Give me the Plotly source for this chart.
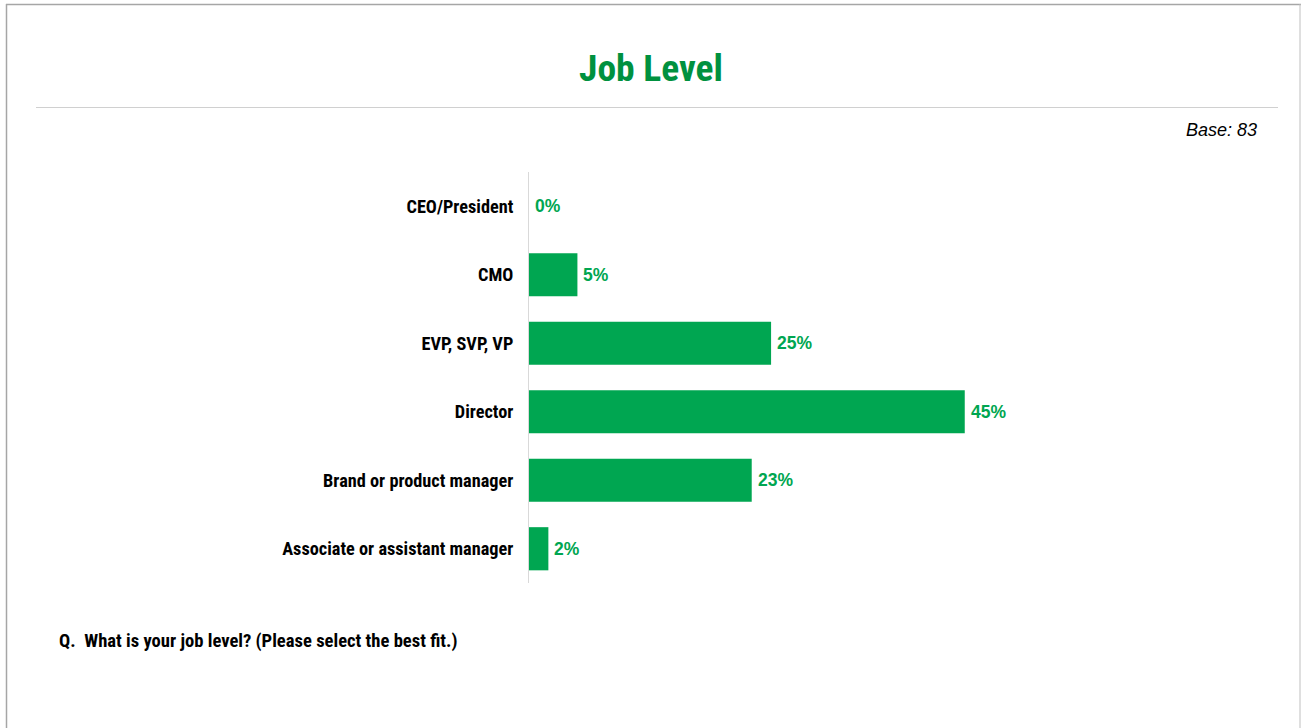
import plotly.graph_objects as go

# Survey results: job level of respondents (percent of base)
categories = ["CEO/President", "CMO", "EVP, SVP, VP", "Director",
              "Brand or product manager", "Associate or assistant manager"]
values = [0, 5, 25, 45, 23, 2]
value_labels = ["0%", "5%", "25%", "45%", "23%", "2%"]

title_text = "Job Level"
base_text = "Base: 83"
question_text = "Q.  What is your job level? (Please select the best fit.)"

W, H = 1301, 728
ML, MR, MT, MB = 529, 191, 172, 145
PW, PH = W - ML - MR, H - MT - MB

NARROW = "Roboto Condensed, Liberation Sans Narrow, Arial Narrow, sans-serif"
SANS = "Liberation Sans, Arial, sans-serif"
GREEN_BAR = "#00A651"
GREEN_TITLE = "#00913F"


def px(x):
    return (x - ML) / PW


def py(y):
    return (H - MB - y) / PH


fig = go.Figure(go.Bar(
    x=values,
    y=categories,
    orientation="h",
    marker=dict(color=GREEN_BAR, line=dict(width=0)),
    width=0.63,
    hoverinfo="skip",
))

# value labels just past the end of each bar
annotations = [
    dict(x=v, y=c, xref="x", yref="y", text=t, showarrow=False,
         xanchor="left", yanchor="middle", xshift=4,
         font=dict(family=SANS, size=17.5, color=GREEN_BAR, weight="bold"))
    for c, v, t in zip(categories, values, value_labels)
]

annotations += [
    dict(text=title_text, xref="paper", yref="paper", x=px(651), y=py(68),
         xanchor="center", yanchor="middle", showarrow=False,
         font=dict(family=NARROW, size=37.5, color=GREEN_TITLE, weight="bold")),
    dict(text=base_text, xref="paper", yref="paper", x=px(1259), y=py(130),
         xanchor="right", yanchor="middle", showarrow=False,
         font=dict(family=SANS, size=18, color="#000000", style="italic")),
    dict(text=question_text, xref="paper", yref="paper", x=px(57), y=py(641),
         xanchor="left", yanchor="middle", showarrow=False,
         font=dict(family=NARROW, size=18.6, color="#000000", weight="bold")),
]

fig.update_layout(
    width=W, height=H,
    margin=dict(l=ML, r=MR, t=MT, b=MB),
    paper_bgcolor="white", plot_bgcolor="white",
    showlegend=False,
    xaxis=dict(range=[0, 60], visible=False, fixedrange=True),
    yaxis=dict(
        autorange="reversed",
        showline=True, linecolor="#D9D9D9", linewidth=1,
        showgrid=False, zeroline=False,
        ticks="", ticklabelstandoff=11,
        tickfont=dict(family=NARROW, size=18.3, color="#000000", weight="bold"),
        fixedrange=True,
    ),
    shapes=[
        # slide frame
        dict(type="line", xref="paper", yref="paper", x0=px(6), x1=px(1301), y0=py(4.5), y1=py(4.5),
             line=dict(color="#A6A6A6", width=1.5)),
        dict(type="line", xref="paper", yref="paper", x0=px(6.5), x1=px(6.5), y0=py(4), y1=py(728),
             line=dict(color="#A6A6A6", width=1.5)),
        dict(type="line", xref="paper", yref="paper", x0=px(1300), x1=px(1300), y0=py(4), y1=py(728),
             line=dict(color="#BFBFBF", width=1)),
        # rule under the title
        dict(type="line", xref="paper", yref="paper", x0=px(36), x1=px(1278), y0=py(107.5), y1=py(107.5),
             line=dict(color="#D0D0D0", width=1)),
    ],
    annotations=annotations,
)

fig.write_html("out.html")
